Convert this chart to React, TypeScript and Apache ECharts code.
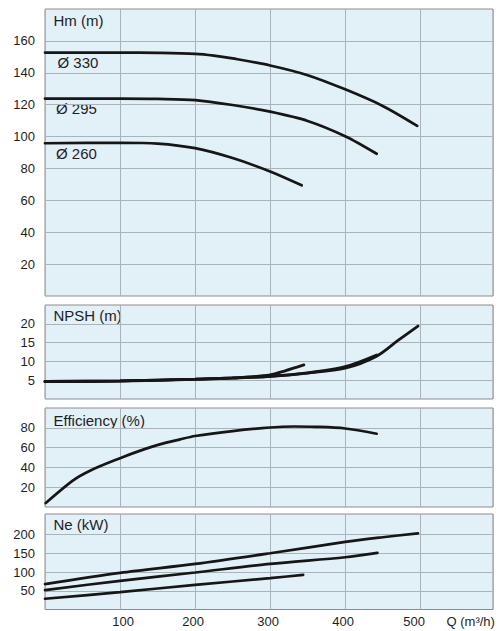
import React, { useEffect, useRef } from "react";
import * as echarts from "echarts";

// ---- Data ----
const Q_TICKS = [100, 200, 300, 400, 500];
const HM_TICKS = [20, 40, 60, 80, 100, 120, 140, 160];
const NPSH_TICKS = [5, 10, 15, 20];
const EFF_TICKS = [20, 40, 60, 80];
const NE_TICKS = [50, 100, 150, 200];

const PANEL_TITLES = ["Hm (m)", "NPSH (m)", "Efficiency (%)", "Ne (kW)"];
const IMPELLER_LABELS = ["Ø 330", "Ø 295", "Ø 260"];
const X_AXIS_NAME = "Q (m³/h)";

const qHm330 = [0, 100, 150, 200, 225, 250, 300, 350, 400, 450, 496];
const hm330 = [152.7, 152.7, 152.5, 151.9, 150.8, 149.0, 144.6, 138.5, 129.6, 119.2, 106.7];
const qHm295 = [0, 100, 150, 200, 250, 300, 350, 400, 442];
const hm295 = [123.8, 123.8, 123.6, 122.9, 119.8, 115.6, 109.8, 100.2, 89.2];
const qHm260 = [0, 100, 150, 200, 250, 300, 342];
const hm260 = [95.8, 96.1, 95.6, 92.7, 86.5, 78.1, 69.4];

const qNpsh1 = [0, 100, 200, 250, 300, 320, 345];
const npsh1 = [4.65, 4.8, 5.26, 5.6, 6.4, 7.5, 9.06];
const qNpsh2 = [0, 100, 200, 250, 300, 350, 400, 442];
const npsh2 = [4.65, 4.8, 5.26, 5.6, 6.05, 6.94, 8.6, 11.7];
const qNpsh3 = [0, 100, 200, 250, 300, 350, 400, 442, 470, 497];
const npsh3 = [4.6, 4.75, 5.2, 5.55, 6.0, 6.9, 8.2, 11.4, 15.5, 19.4];

const qEff = [1, 37, 60, 100, 126, 153, 180, 200, 250, 300, 332, 360, 400, 442];
const eff = [4, 26.7, 36.7, 49.3, 56.7, 63.3, 68.3, 71.7, 76.7, 80.3, 81.3, 81, 79.3, 74];

const qNe330 = [0, 100, 200, 300, 400, 450, 497];
const ne330 = [67.7, 97.9, 121.9, 150.3, 180.4, 192.9, 203.5];
const qNe295 = [0, 100, 200, 300, 400, 443];
const ne295 = [51.7, 76.6, 98.8, 121.9, 139.6, 151.1];
const qNe260 = [0, 100, 200, 300, 344];
const ne260 = [28.7, 46.4, 65.9, 83.7, 92.6];

// ---- Styles ----
const FONT = "'Liberation Sans', Arial, Helvetica, sans-serif";
const BG = "#e2f0f8";
const BORDER = "#8c8c8c";
const GRIDLINE = "#a9b3ba";
const TEXT = "#1e1e1e";
const CURVE = "#161616";

const X_MAX = 597;
const GRID_LEFT = 45;
const GRID_RIGHT = 11;
const PANELS = [
  { top: 9, height: 287, max: 180, interval: 20, ticks: HM_TICKS },
  { top: 305, height: 94, max: 25, interval: 5, ticks: NPSH_TICKS },
  { top: 408, height: 99, max: 100, interval: 20, ticks: EFF_TICKS },
  { top: 514, height: 95.5, max: 255, interval: 50, ticks: NE_TICKS },
];
const X_LABEL_SHIFT: Record<number, number> = { 100: 3, 200: -2, 300: -2, 400: -2, 500: -6 };

const zip = (xs: number[], ys: number[]) => xs.map((x, i) => [x, ys[i]]);

export default function App() {
  const ref = useRef<HTMLDivElement>(null);

  useEffect(() => {
    if (!ref.current) return;
    const chart = echarts.init(ref.current, undefined, { renderer: "svg" });

    const grids = PANELS.map((p) => ({
      left: GRID_LEFT,
      right: GRID_RIGHT,
      top: p.top,
      height: p.height,
      show: true,
      backgroundColor: BG,
      borderColor: BORDER,
      borderWidth: 1,
      containLabel: false,
    }));

    const rich: Record<string, any> = {};
    Q_TICKS.forEach((v) => {
      const s = X_LABEL_SHIFT[v] || 0;
      rich["q" + v] = {
        fontFamily: FONT,
        fontSize: 13,
        color: TEXT,
        padding: s >= 0 ? [0, 0, 0, 2 * s] : [0, -2 * s, 0, 0],
      };
    });

    const xAxes = PANELS.map((p, i) => ({
      type: "value",
      gridIndex: i,
      min: 0,
      max: X_MAX,
      interval: 100,
      axisLine: { show: false },
      axisTick: { show: false },
      splitLine: { show: true, lineStyle: { color: GRIDLINE, width: 1 } },
      axisLabel:
        i === PANELS.length - 1
          ? {
              show: true,
              margin: 5,
              fontFamily: FONT,
              fontSize: 13,
              color: TEXT,
              formatter: (v: number) =>
                Q_TICKS.includes(v) ? `{q${v}|${v}}` : "",
              rich,
            }
          : { show: false },
    }));

    const yAxes = PANELS.map((p, i) => ({
      type: "value",
      gridIndex: i,
      min: 0,
      max: p.max,
      interval: p.interval,
      axisLine: { show: false },
      axisTick: { show: false },
      splitLine: {
        show: true,
        showMinLine: false,
        showMaxLine: false,
        lineStyle: {
          color: p.ticks.map(() => GRIDLINE).concat(
            p.max % p.interval === 0 ? [] : ["rgba(0,0,0,0)"]
          ),
          width: 1,
        },
      },
      axisLabel: {
        show: true,
        margin: 10,
        fontFamily: FONT,
        fontSize: 13,
        color: TEXT,
        padding: [5, 0, 0, 0],
        formatter: (v: number) => (p.ticks.includes(v) ? String(v) : ""),
      },
    }));

    const line = (data: number[][], gi: number, width = 2.7) => ({
      type: "line",
      xAxisIndex: gi,
      yAxisIndex: gi,
      data,
      smooth: 0.3,
      showSymbol: false,
      symbol: "none",
      silent: true,
      lineStyle: { color: CURVE, width, cap: "round" },
    });

    const series = [
      line(zip(qHm330, hm330), 0),
      line(zip(qHm295, hm295), 0),
      line(zip(qHm260, hm260), 0),
      line(zip(qNpsh1, npsh1), 1, 2.8),
      line(zip(qNpsh2, npsh2), 1, 2.8),
      line(zip(qNpsh3, npsh3), 1, 2.8),
      line(zip(qEff, eff), 2),
      line(zip(qNe330, ne330), 3),
      line(zip(qNe295, ne295), 3),
      line(zip(qNe260, ne260), 3),
    ];

    const titleY = [20, 315, 420, 524];
    const labelY = [62.5, 108.5, 153.5];
    const labelX = [57.5, 56, 56];

    const graphic: any[] = [];
    PANEL_TITLES.forEach((t, i) => {
      graphic.push({
        type: "text",
        x: 53.5,
        y: titleY[i],
        silent: true,
        style: {
          text: t,
          fontFamily: FONT,
          fontSize: 15,
          fill: TEXT,
          verticalAlign: "middle",
          align: "left",
        },
      });
    });
    IMPELLER_LABELS.forEach((t, i) => {
      graphic.push({
        type: "text",
        x: labelX[i],
        y: labelY[i],
        silent: true,
        style: {
          text: t,
          fontFamily: FONT,
          fontSize: 15,
          fill: TEXT,
          verticalAlign: "middle",
          align: "left",
        },
      });
    });
    graphic.push({
      type: "text",
      x: 446.5,
      y: 621,
      silent: true,
      style: {
        text: X_AXIS_NAME,
        fontFamily: FONT,
        fontSize: 13,
        fill: TEXT,
        verticalAlign: "middle",
        align: "left",
      },
    });

    chart.setOption({
      animation: false,
      backgroundColor: "#ffffff",
      textStyle: { fontFamily: FONT },
      grid: grids,
      xAxis: xAxes,
      yAxis: yAxes,
      series,
      graphic,
    });

    return () => chart.dispose();
  }, []);

  return (
    <div
      ref={ref}
      style={{ position: "fixed", left: 0, top: 0, width: 504, height: 631 }}
    />
  );
}
